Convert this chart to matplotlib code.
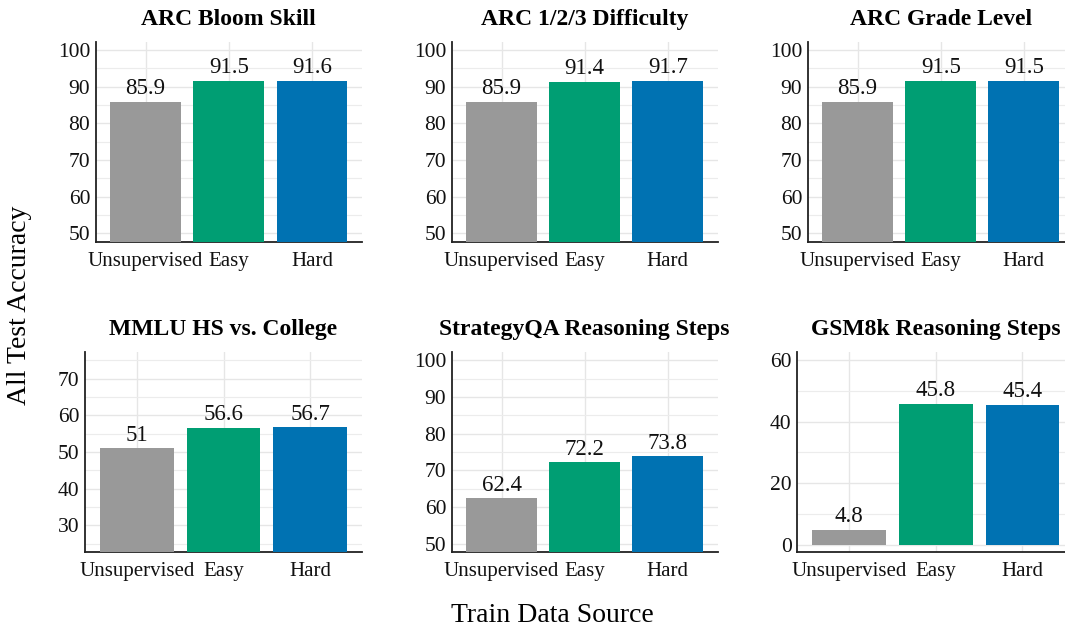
import matplotlib
matplotlib.use("Agg")
import matplotlib.pyplot as plt
import numpy as np

# data
categories = ["Unsupervised", "Easy", "Hard"]
colors = ["#999999", "#009E73", "#0072B2"]

titles = ["ARC Bloom Skill", "ARC 1/2/3 Difficulty", "ARC Grade Level",
          "MMLU HS vs. College", "StrategyQA Reasoning Steps", "GSM8k Reasoning Steps"]
arc_bloom = [85.9, 91.5, 91.6]
arc_diff = [85.9, 91.4, 91.7]
arc_grade = [85.9, 91.5, 91.5]
mmlu = [51, 56.6, 56.7]
strategyqa = [62.4, 72.2, 73.8]
gsm8k = [4.8, 45.8, 45.4]
labels = [["85.9", "91.5", "91.6"], ["85.9", "91.4", "91.7"], ["85.9", "91.5", "91.5"],
          ["51", "56.6", "56.7"], ["62.4", "72.2", "73.8"], ["4.8", "45.8", "45.4"]]

ylims = [(47.5, 102.3), (47.5, 102.3), (47.5, 102.3),
         (22.6, 77.4), (47.7, 102.3), (-2.4, 62.7)]
yticks = [np.arange(50, 101, 10)] * 3 + [np.arange(30, 71, 10), np.arange(50, 101, 10), np.arange(0, 61, 20)]
yminor = [5, 5, 5, 5, 5, 10]

plt.rcParams['font.family'] = ['Liberation Serif', 'DejaVu Serif']

W, H = 1065, 628
fig = plt.figure(figsize=(W / 100, H / 100), dpi=100)

# axes boxes in pixels: left, top, right, bottom
boxes = [(95.7, 41.7, 362, 242.3), (451.7, 41.7, 717.7, 242.3), (807.7, 41.7, 1073.7, 242.3),
         (85, 351.7, 362, 552.3), (451.7, 351.7, 717.7, 552.3), (797.3, 351.7, 1074.3, 552.3)]

all_vals = [arc_bloom, arc_diff, arc_grade, mmlu, strategyqa, gsm8k]
x = np.arange(len(categories))

for i, vals in enumerate(all_vals):
    l, t, r, b = boxes[i]
    ax = fig.add_axes([l / W, 1 - b / H, (r - l) / W, (b - t) / H])
    ax.bar(x, vals, width=0.85, color=colors, zorder=3)
    for xi, v, s in zip(x, vals, labels[i]):
        ax.annotate(s, (xi, v), xytext=(0, 2), textcoords="offset points",
                    ha="center", va="bottom", fontsize=16.5, color="#111111", zorder=4)
    ax.set_xticks(x)
    ax.set_xticklabels(categories, fontsize=15)
    ax.set_yticks(yticks[i])
    ax.set_yticks(np.arange(yticks[i][0] - yminor[i], yticks[i][-1] + yminor[i] + 0.1, yminor[i]), minor=True)
    ax.set_xlim(-0.6, 2.6)
    ax.set_ylim(*ylims[i])
    ax.tick_params(axis="both", which="both", length=0, colors="#111111")
    ax.tick_params(axis="y", pad=4, labelsize=15.5)
    ax.tick_params(axis="x", pad=7, labelsize=15)
    ax.grid(True, which="major", color="#e6e6e6", linewidth=1.0, zorder=0)
    ax.grid(True, which="minor", axis="y", color="#ececec", linewidth=0.8, zorder=0)
    ax.set_axisbelow(True)
    for sp in ["top", "right"]:
        ax.spines[sp].set_visible(False)
    for sp in ["left", "bottom"]:
        ax.spines[sp].set_linewidth(1.3)
        ax.spines[sp].set_color("#222222")
    ax.set_title(titles[i], fontsize=17, fontweight="bold", pad=12)

fig.text(20 / W, 1 - 305 / H, "All Test Accuracy", rotation=90, ha="center", va="center", fontsize=20)
fig.text(552 / W, 1 - 615 / H, "Train Data Source", ha="center", va="center", fontsize=20)

fig.savefig("out.png", dpi=100)
